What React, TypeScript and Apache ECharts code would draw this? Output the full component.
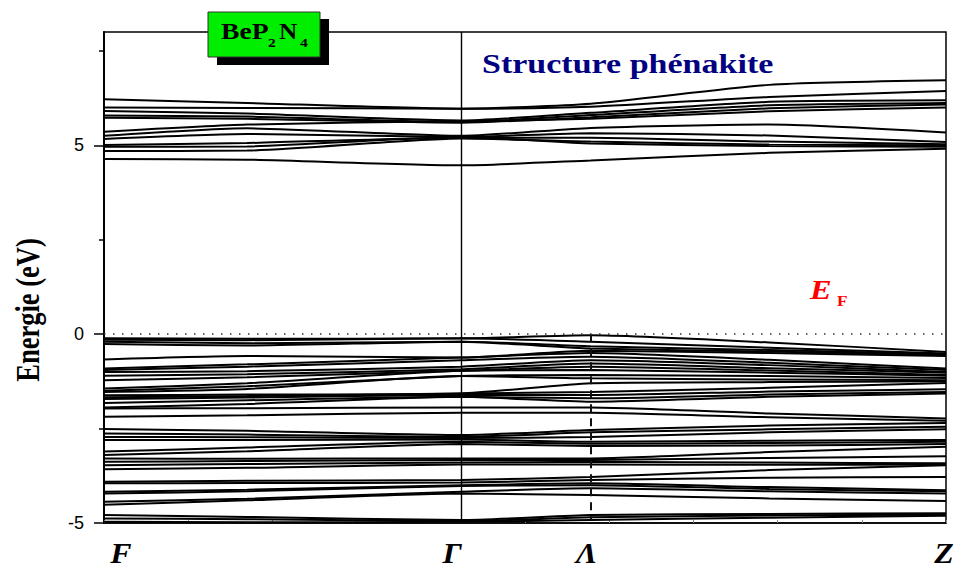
import React, { useEffect, useRef } from "react";
import * as echarts from "echarts";

// k-path positions (fraction of path length): F, mid F-Γ, Γ, Λ, mid Λ-Z, Z
const kPoints = [0, 0.17, 0.424, 0.578, 0.79, 1];
const kLabels = ["F", "Γ", "Λ", "Z"];
const kLabelPos = [0, 0.424, 0.578, 1];
const yMajorTicks = [-5, 0, 5];
const yMinorTicks = [-2.5, 2.5, 7.5];

// Energies (eV) at each k point
const conductionBands = [
  [6.22, 6.12, 5.97, 6.1, 6.6, 6.72],
  [6.0, 5.99, 5.97, 6.02, 6.28, 6.44],
  [5.91, 5.84, 5.66, 5.86, 6.15, 6.19],
  [5.79, 5.76, 5.62, 5.8, 6.06, 6.12],
  [5.73, 5.7, 5.6, 5.74, 5.98, 6.08],
  [5.36, 5.55, 5.64, 5.7, 5.9, 6.0],
  [5.25, 5.45, 5.25, 5.46, 5.55, 5.34],
  [5.17, 5.3, 5.22, 5.32, 5.26, 5.09],
  [5.01, 5.06, 5.2, 5.2, 5.1, 5.03],
  [4.96, 4.97, 5.22, 5.05, 4.98, 4.96],
  [4.85, 4.86, 5.18, 5.1, 5.02, 5.0],
  [4.64, 4.62, 4.47, 4.6, 4.8, 4.91],
];

const valenceUpper = [
  [-0.11, -0.12, -0.11, -0.03, -0.22, -0.47],
  [-0.15, -0.16, -0.11, -0.2, -0.36, -0.51],
  [-0.2, -0.24, -0.2, -0.32, -0.42, -0.53],
  [-0.26, -0.3, -0.2, -0.38, -0.46, -0.56],
  [-0.67, -0.58, -0.62, -0.44, -0.5, -0.58],
  [-0.91, -0.8, -0.62, -0.5, -0.68, -0.91],
  [-0.95, -0.86, -0.69, -0.6, -0.76, -0.95],
  [-1.0, -0.98, -0.86, -0.69, -0.82, -1.0],
  [-1.1, -1.06, -0.93, -0.78, -0.9, -1.02],
  [-1.22, -1.14, -0.97, -0.86, -0.96, -1.08],
  [-1.44, -1.3, -0.97, -0.95, -1.02, -1.1],
  [-1.5, -1.38, -1.11, -1.08, -1.11, -1.16],
  [-1.53, -1.45, -1.11, -1.17, -1.2, -1.22],
  [-1.62, -1.6, -1.57, -1.3, -1.27, -1.25],
  [-1.67, -1.64, -1.57, -1.53, -1.42, -1.29],
  [-1.72, -1.68, -1.61, -1.61, -1.52, -1.46],
  [-1.82, -1.75, -1.66, -1.7, -1.6, -1.53],
  [-1.94, -1.85, -1.66, -1.79, -1.66, -1.57],
  [-1.97, -1.96, -1.94, -1.94, -2.1, -2.23],
  [-2.19, -2.15, -2.08, -2.08, -2.2, -2.29],
];

const valenceLower = [
  [-2.51, -2.56, -2.67, -2.54, -2.42, -2.35],
  [-2.63, -2.66, -2.72, -2.6, -2.52, -2.45],
  [-2.72, -2.73, -2.75, -2.72, -2.6, -2.52],
  [-2.8, -2.8, -2.79, -2.85, -2.82, -2.8],
  [-3.11, -3.0, -2.85, -2.9, -2.88, -2.85],
  [-3.2, -3.1, -2.91, -2.96, -2.95, -2.91],
  [-3.29, -3.3, -3.29, -3.29, -3.12, -2.98],
  [-3.38, -3.36, -3.33, -3.33, -3.28, -3.23],
  [-3.47, -3.44, -3.4, -3.38, -3.4, -3.42],
  [-3.58, -3.54, -3.45, -3.45, -3.46, -3.45],
  [-3.91, -3.88, -3.86, -3.78, -3.6, -3.47],
  [-3.95, -3.94, -3.93, -3.86, -3.8, -3.78],
  [-4.17, -4.12, -4.0, -3.95, -4.05, -4.13],
  [-4.22, -4.16, -4.02, -4.0, -4.1, -4.16],
  [-4.44, -4.36, -4.17, -4.08, -4.16, -4.22],
  [-4.52, -4.4, -4.22, -4.26, -4.35, -4.42],
  [-4.79, -4.84, -4.92, -4.79, -4.76, -4.74],
  [-4.88, -4.9, -4.95, -4.85, -4.8, -4.78],
  [-4.97, -4.98, -4.97, -4.92, -4.86, -4.81],
];

const SERIF = "'Liberation Serif', 'Times New Roman', serif";
const SANS = "'Liberation Sans', Arial, sans-serif";

export default function App() {
  const ref = useRef<HTMLDivElement>(null);

  useEffect(() => {
    document.body.style.margin = "0";
    const chart = echarts.init(ref.current!, null, { renderer: "svg" });
    const allBands = [...conductionBands, ...valenceUpper, ...valenceLower];

    const bandSeries = allBands.map((band, i) => ({
      type: "line",
      name: "band" + i,
      data: kPoints.map((k, j) => [k, band[j]]),
      symbol: "none",
      showSymbol: false,
      smooth: 0.2,
      silent: true,
      z: 3,
      lineStyle: { color: "#000", width: 2 },
    }));

    const refSeries = {
      type: "line",
      name: "refs",
      data: [],
      symbol: "none",
      silent: true,
      z: 2,
      markLine: {
        silent: true,
        symbol: ["none", "none"],
        label: { show: false },
        animation: false,
        data: [
          [
            { coord: [kLabelPos[1], -5] },
            { coord: [kLabelPos[1], 8] },
          ].map((d) => ({ ...d, lineStyle: { color: "#000", width: 1.4, type: "solid" } })),
          [
            { coord: [kLabelPos[2], 0] },
            { coord: [kLabelPos[2], -4.9] },
          ].map((d) => ({ ...d, lineStyle: { color: "#111", width: 2, type: [8, 6] } })),
          [
            { coord: [0, 0] },
            { coord: [1, 0] },
          ].map((d) => ({ ...d, lineStyle: { color: "#333", width: 1.5, type: [1.5, 7.5] } })),
        ],
      },
    };

    const option: any = {
      animation: false,
      backgroundColor: "#fff",
      grid: {
        left: 104,
        right: 12,
        top: 32,
        bottom: 46,
        show: true,
        borderColor: "#000",
        borderWidth: 1.5,
        backgroundColor: "transparent",
      },
      xAxis: {
        type: "value",
        min: 0,
        max: 1,
        interval: 0.1,
        axisLine: { show: true, onZero: false, lineStyle: { color: "#000", width: 1.5 } },
        axisTick: { show: true, inside: true, length: 3, lineStyle: { color: "#888", width: 1 } },
        axisLabel: { show: false },
        splitLine: { show: false },
      },
      yAxis: [
        {
          type: "value",
          min: -5,
          max: 8,
          interval: 5,
          axisLine: { show: true, lineStyle: { color: "#000", width: 2 } },
          axisTick: {
            show: true,
            inside: false,
            length: 10,
            customValues: yMajorTicks,
            lineStyle: { color: "#000", width: 1.5 },
          },
          axisLabel: {
            show: true,
            customValues: yMajorTicks,
            color: "#000",
            fontSize: 18,
            fontFamily: SANS,
            margin: 20,
          },
          splitLine: { show: false },
        },
        {
          type: "value",
          min: -5,
          max: 8,
          position: "left",
          offset: 0,
          axisLine: { show: false },
          axisTick: {
            show: true,
            inside: false,
            length: 5,
            customValues: yMinorTicks,
            lineStyle: { color: "#000", width: 1.5 },
          },
          axisLabel: { show: false },
          splitLine: { show: false },
        },
      ],
      series: [refSeries, ...bandSeries],
    };

    chart.setOption(option);

    // k-point labels placed under their positions on the x scale
    const labelOffsets = [17, -9, -4, -2];
    const kTexts = kLabels.map((lab, i) => {
      const p = chart.convertToPixel({ gridIndex: 0 }, [kLabelPos[i], -5]) as number[];
      return {
        type: "text",
        x: p[0] + labelOffsets[i],
        y: 568,
        z: 100,
        scaleX: 1.1,
        style: {
          text: lab,
          font: "italic bold 29px " + SERIF,
          fill: "#000",
          textAlign: "center",
          textVerticalAlign: "bottom",
        },
      };
    });

    chart.setOption({
      graphic: [
        {
          type: "rect",
          z: 100,
          shape: { x: 217, y: 19, width: 112, height: 46 },
          style: { fill: "#000" },
        },
        {
          type: "rect",
          z: 101,
          shape: { x: 208, y: 12, width: 112, height: 45 },
          style: { fill: "#00ee00", stroke: "#333", lineWidth: 1 },
        },
        {
          type: "text", z: 102, x: 221, y: 19, scaleX: 1.2,
          style: { text: "BeP", font: "bold 23px " + SERIF, fill: "#000" },
        },
        {
          type: "text", z: 102, x: 268, y: 36, scaleX: 1.2,
          style: { text: "2", font: "bold 13px " + SERIF, fill: "#000" },
        },
        {
          type: "text", z: 102, x: 279, y: 19, scaleX: 1.1,
          style: { text: "N", font: "bold 23px " + SERIF, fill: "#000" },
        },
        {
          type: "text", z: 102, x: 300, y: 36, scaleX: 1.2,
          style: { text: "4", font: "bold 13px " + SERIF, fill: "#000" },
        },
        {
          type: "text", z: 102, x: 482, y: 51, scaleX: 1.26,
          style: { text: "Structure phénakite", font: "bold 27px " + SERIF, fill: "#000080" },
        },
        {
          type: "text", z: 102, x: 810, y: 276, scaleX: 1.2,
          style: { text: "E", font: "italic bold 27px " + SERIF, fill: "#ff0000" },
        },
        {
          type: "text", z: 102, x: 837, y: 293, scaleX: 1.15,
          style: { text: "F", font: "bold 15px " + SERIF, fill: "#ff0000" },
        },
        {
          type: "text", z: 102, x: 28, y: 310, rotation: Math.PI / 2, scaleX: 0.78,
          style: {
            text: "Energie (eV)",
            font: "bold 34px " + SERIF,
            fill: "#000",
            textAlign: "center",
            textVerticalAlign: "middle",
          },
        },
        ...kTexts,
      ],
    });

    return () => chart.dispose();
  }, []);

  return <div ref={ref} style={{ width: 958, height: 569 }} />;
}
